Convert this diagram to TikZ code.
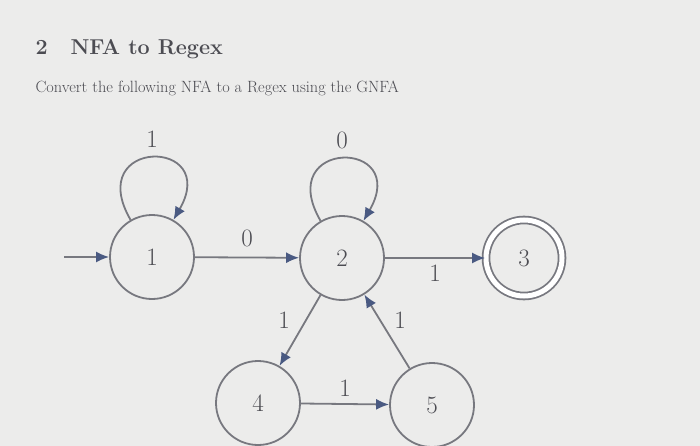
\documentclass[tikz,border=0pt]{standalone}
\usepackage{tikz}
\usetikzlibrary{arrows.meta}

\definecolor{screen}{HTML}{ECECEB}
\definecolor{linegray}{HTML}{77787F}
\definecolor{tipblue}{HTML}{4A5A82}
\definecolor{textgray}{HTML}{4C4C52}

\tikzset{
  state/.style={circle, draw=linegray, line width=1.8pt, minimum size=84pt,
    inner sep=0pt, text=textgray, font=\fontsize{25}{25}\selectfont},
  accept/.style={state, double, double distance=5pt, minimum size=76pt},
  trans/.style={draw=linegray, line width=1.8pt,
    -{Latex[length=13pt,width=11pt,color=tipblue]}},
  lbl/.style={text=textgray, font=\fontsize{25}{25}\selectfont}
}

\begin{document}
\begin{tikzpicture}[x=1pt,y=-1pt]

	%--- screen background ---
	\fill[screen] (0,0) rectangle (700,446);
	\useasboundingbox (0,0) rectangle (700,446);
	
	%--- heading and task ---
	\node[anchor=base west, text=textgray, font=\fontsize{21.5}{21.5}\selectfont\bfseries] (secnum) at (32,55) {2};
	\node[anchor=base west, text=textgray, font=\fontsize{21.5}{21.5}\selectfont\bfseries] (sectitle) at (67,55) {NFA to Regex};
	\node[anchor=base west, text=textgray, font=\fontsize{16.3}{16.3}\selectfont] (task) at (32,93) {Convert the following NFA to a Regex using the GNFA};
	
	%--- states ---
	\node[state]  (n1) at (152,257) {1};
	\node[state]  (n2) at (342,258) {2};
	\node[accept] (n3) at (524,258) {3};
	\node[state]  (n4) at (258,403) {4};
	\node[state]  (n5) at (432,405) {5};
	
	% start arrow
	\coordinate (start) at (64,257);
	\draw[trans] (start) -- (n1);
	
	% self loops
	\draw[trans] (n1) to[out=120,in=60,looseness=5.7] node[lbl, above=6pt] {1} (n1);
	\draw[trans] (n2) to[out=120,in=60,looseness=5.7] node[lbl, above=6pt] {0} (n2);
	
	% transitions
	\draw[trans] (n1) -- node[lbl, above=6pt] {0} (n2);
	\draw[trans] (n2) -- node[lbl, below=3pt] {1} (n3);
	\draw[trans] (n2) -- node[lbl, pos=0.35, left=12pt] {1} (n4);
	\draw[trans] (n5) -- node[lbl, pos=0.65, right=10pt] {1} (n2);
	\draw[trans] (n4) -- node[lbl, above=3pt] {1} (n5);
	
\end{tikzpicture}
\end{document}
